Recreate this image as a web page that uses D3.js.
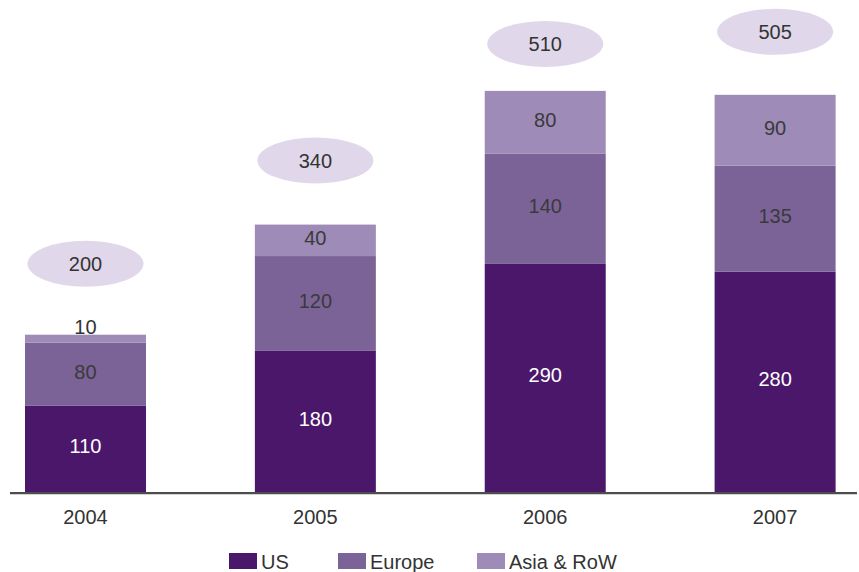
<!DOCTYPE html>
<html>
<head>
<meta charset="utf-8">
<script src="https://cdn.jsdelivr.net/npm/d3@7"></script>
<style>
  body { margin: 0; background: #fff; }
  svg { display: block; font-family: "Liberation Sans", Arial, Helvetica, sans-serif; }
</style>
</head>
<body>
<div id="rootDiv"></div>
<script>
// data
const years = ["2004", "2005", "2006", "2007"];
const us = [110, 180, 290, 280];
const europe = [80, 120, 140, 135];
const asiaRow = [10, 40, 80, 90];
const totals = [200, 340, 510, 505];
const seriesNames = ["US", "Europe", "Asia & RoW"];

const colors = ["#4b176b", "#7b6398", "#9e8bb7"];
const labelColors = ["#ffffff", "#3a3a3a", "#3a3a3a"];
const bubbleColor = "#e0d8ea";
const ink = "#333333";

const W = 859, H = 572;
const baseY = 492;

const rows = years.map((yr, i) => ({ year: yr, US: us[i], Europe: europe[i], "Asia & RoW": asiaRow[i], total: totals[i] }));

const x = d3.scaleBand()
    .domain(years)
    .range([25, 835.6])
    .paddingInner(0.4737)
    .paddingOuter(0);

const y = d3.scaleLinear()
    .domain([0, 600])
    .range([baseY, baseY - 600 * 0.7865]);

const svg = d3.select("#rootDiv")
    .append("svg")
    .attr("width", W)
    .attr("height", H);

// stacked bars
const stacked = d3.stack().keys(seriesNames)(rows);

const layers = svg.selectAll("g.layer")
    .data(stacked)
    .enter()
    .append("g")
    .attr("class", "layer")
    .attr("fill", (d, i) => colors[i]);

layers.selectAll("rect")
    .data(d => d)
    .enter()
    .append("rect")
    .attr("x", d => x(d.data.year))
    .attr("y", d => y(d[1]))
    .attr("width", x.bandwidth())
    .attr("height", d => y(d[0]) - y(d[1]));

// segment labels; tiny segments get their label above the bar
layers.each(function (series, si) {
    d3.select(this).selectAll("text")
        .data(series)
        .enter()
        .append("text")
        .attr("x", d => x(d.data.year) + x.bandwidth() / 2)
        .attr("y", d => {
            const h = y(d[0]) - y(d[1]);
            if (h < 20) return y(d[1]) - 1;
            return (y(d[0]) + y(d[1])) / 2 + 4.5;
        })
        .attr("text-anchor", "middle")
        .attr("font-size", 20)
        .attr("fill", d => (y(d[0]) - y(d[1]) < 20) ? ink : labelColors[si])
        .text(d => d.data[series.key]);
});

// total bubbles (gap above the bar top, per column)
const bubbleGap = [71, 64, 47, 63];
const bubbles = svg.selectAll("g.bubble")
    .data(rows)
    .enter()
    .append("g")
    .attr("class", "bubble")
    .attr("transform", (d, i) => `translate(${x(d.year) + x.bandwidth() / 2},${y(d.total) - bubbleGap[i]})`);

bubbles.append("ellipse")
    .attr("rx", 58)
    .attr("ry", 23)
    .attr("fill", bubbleColor);

bubbles.append("text")
    .attr("y", 7)
    .attr("text-anchor", "middle")
    .attr("font-size", 20)
    .attr("fill", ink)
    .text(d => d.total);

// x axis
const xAxis = svg.append("g")
    .attr("transform", `translate(0,${baseY})`)
    .call(d3.axisBottom(x).tickSize(0));
xAxis.select(".domain").remove();
xAxis.selectAll("text")
    .attr("y", 32)
    .attr("dy", 0)
    .attr("font-size", 20)
    .attr("font-family", "Liberation Sans, Arial, sans-serif")
    .attr("fill", ink);

svg.append("line")
    .attr("x1", 10)
    .attr("x2", 857)
    .attr("y1", baseY + 1.2)
    .attr("y2", baseY + 1.2)
    .attr("stroke", "#4d4d4d")
    .attr("stroke-width", 2.3);

// legend
const legendX = [229, 338, 477];
const legend = svg.selectAll("g.legend")
    .data(seriesNames)
    .enter()
    .append("g")
    .attr("class", "legend")
    .attr("transform", (d, i) => `translate(${legendX[i]},553)`);

legend.append("rect")
    .attr("width", 28)
    .attr("height", 16)
    .attr("fill", (d, i) => colors[i]);

legend.append("text")
    .attr("x", 32)
    .attr("y", 16)
    .attr("font-size", 20)
    .attr("fill", ink)
    .text(d => d);
</script>
</body>
</html>
